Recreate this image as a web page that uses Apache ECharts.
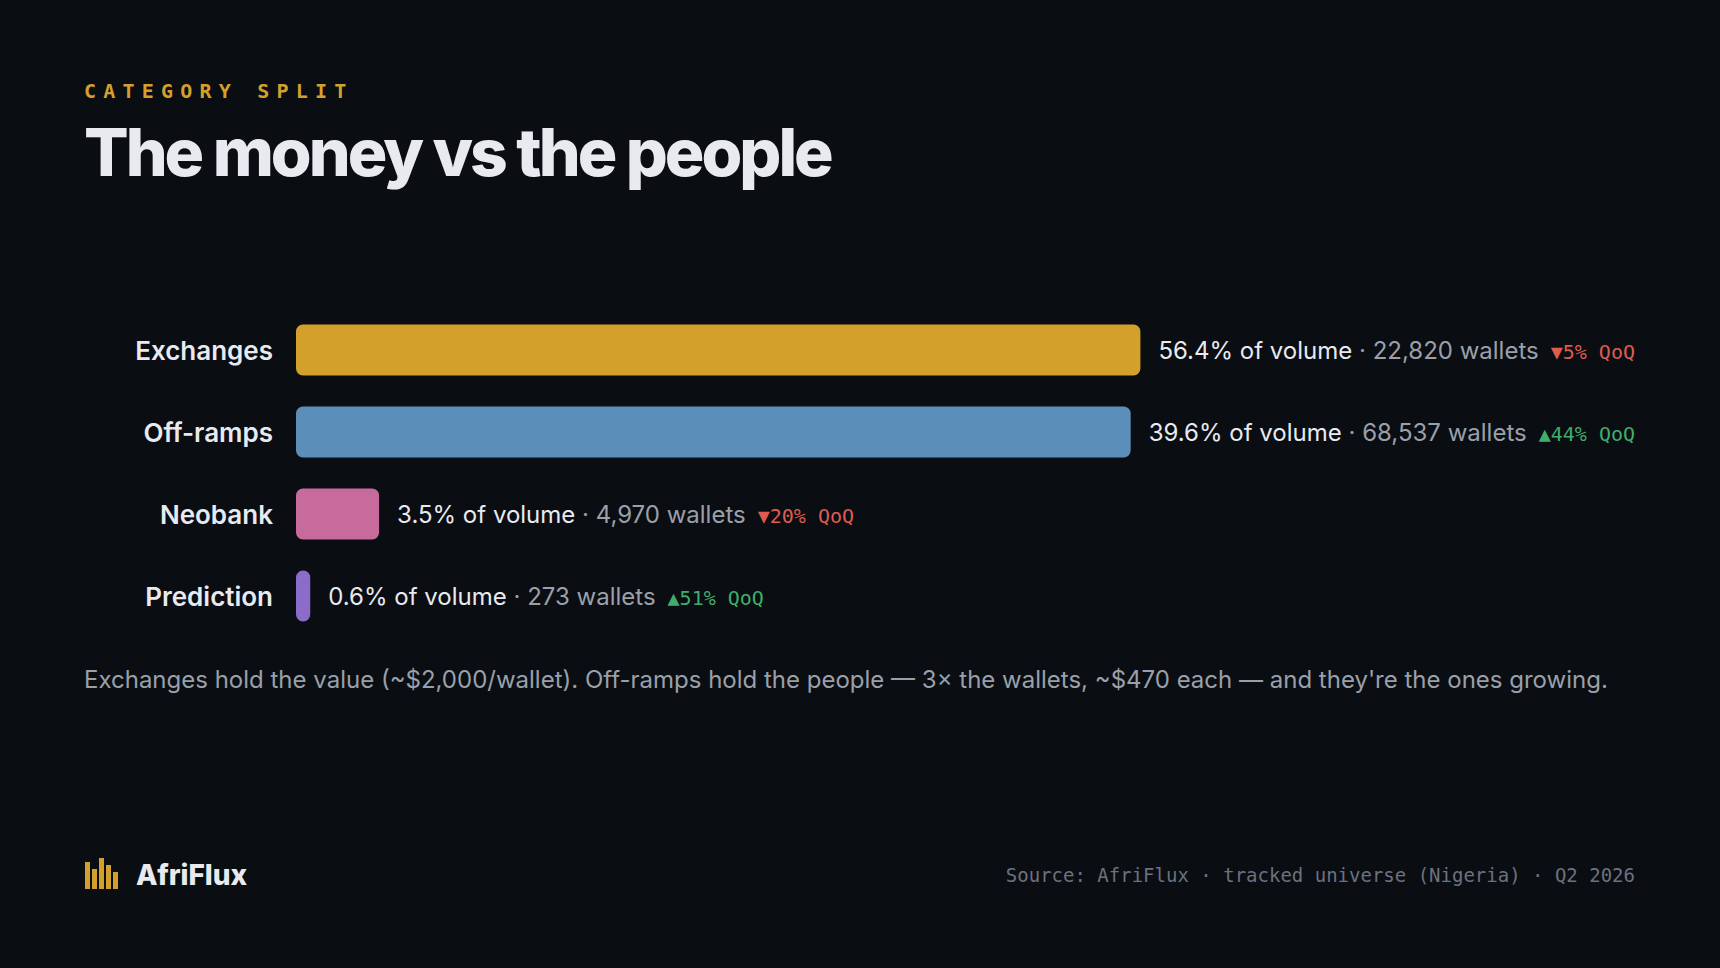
<!DOCTYPE html>
<html>
<head>
<meta charset="utf-8">
<script src="https://cdn.jsdelivr.net/npm/echarts@6/dist/echarts.min.js"></script>
<style>
html, body { margin: 0; padding: 0; background: #0a0d12; }
#chart { width: 1720px; height: 968px; }
/* tracking for the headline texts (svg renderer) */
#chart text[style*="bold 20px"] { letter-spacing: 7.2px; }
#chart text[style*="800 66px"] { letter-spacing: -3px; }
</style>
</head>
<body>
<div id="chart"></div>
<script>
// category split data
var categories = ['Exchanges', 'Off-ramps', 'Neobank', 'Prediction'];
var volumeShare = [56.4, 39.6, 3.5, 0.6];
var walletCount = [22820, 68537, 4970, 273];
var qoqChange = [-5, 44, -20, 51];
var barColors = ['#d4a02c', '#5b8fba', '#c76b9c', '#8b6cc9'];

var WHITE = '#e8eaf0';
var GREY = '#9aa0a9';
var RED = '#df5b4f';
var GREEN = '#3fae6b';
var SANS = 'Inter';
var MONO = '"DejaVu Sans Mono"';

var trackLeft = 296, trackWidth = 1339, labelGap = 18;

var ctx = document.createElement('canvas').getContext('2d');
function textWidth(str, font) {
  ctx.font = font;
  return ctx.measureText(str).width;
}

function labelParts(i) {
  var up = qoqChange[i] >= 0;
  return {
    pct: volumeShare[i] + '% of volume',
    wal: ' \u00b7 ' + walletCount[i].toLocaleString('en-US') + ' wallets',
    qoq: (up ? '\u25b2' : '\u25bc') + Math.abs(qoqChange[i]) + '% QoQ',
    up: up
  };
}

var maxShare = Math.max.apply(null, volumeShare);
var barData = [];
for (var i = 0; i < categories.length; i++) {
  var p = labelParts(i);
  var lw = textWidth(p.pct, '400 24px Inter') + textWidth(p.wal, '400 24px Inter') + 12 +
    textWidth(p.qoq, '400 20px "DejaVu Sans Mono"');
  // bar shrinks so that its label still fits inside the track
  var room = maxShare * (trackWidth - labelGap - lw) / trackWidth;
  barData.push({
    value: Math.min(volumeShare[i], room),
    itemStyle: { color: barColors[i] }
  });
}

var chart = echarts.init(document.getElementById('chart'), null, { renderer: 'svg' });
var option = {
  backgroundColor: '#0a0d12',
  animation: false,
  grid: { left: trackLeft, width: trackWidth, top: 309, height: 328 },
  xAxis: { type: 'value', min: 0, max: maxShare, show: false },
  yAxis: {
    type: 'category',
    data: categories,
    inverse: true,
    axisLine: { show: false },
    axisTick: { show: false },
    axisLabel: { color: WHITE, fontFamily: SANS, fontSize: 26, fontWeight: 600, margin: 23 }
  },
  series: [{
    type: 'bar',
    data: barData,
    barWidth: 51,
    itemStyle: { borderRadius: 7 },
    label: {
      show: true,
      position: 'right',
      distance: labelGap,
      formatter: function (params) {
        var p = labelParts(params.dataIndex);
        return '{pct|' + p.pct + '}{wal|' + p.wal + '}{' + (p.up ? 'up' : 'dn') + '|' + p.qoq + '}';
      },
      rich: {
        pct: { color: WHITE, fontFamily: SANS, fontSize: 24 },
        wal: { color: GREY, fontFamily: SANS, fontSize: 24 },
        up: { color: GREEN, fontFamily: MONO, fontSize: 20, padding: [3, 0, 0, 12] },
        dn: { color: RED, fontFamily: MONO, fontSize: 20, padding: [3, 0, 0, 12] }
      }
    }
  }],
  graphic: [
    {
      type: 'text', left: 84, top: 81,
      style: { text: 'CATEGORY SPLIT', fill: '#d4a02c', font: 'bold 20px ' + MONO }
    },
    {
      type: 'text', left: 84, top: 119,
      style: { text: 'The money vs the people', fill: WHITE, font: '800 66px Inter' }
    },
    {
      type: 'text', left: 84, top: 667,
      style: {
        text: 'Exchanges hold the value (~$2,000/wallet). Off-ramps hold the people \u2014 3\u00d7 the wallets, ~$470 each \u2014 and they\'re the ones growing.',
        fill: GREY, font: '400 24px Inter'
      }
    },
    { type: 'rect', shape: { x: 85, y: 862, width: 5, height: 27 }, style: { fill: '#d4a02c' } },
    { type: 'rect', shape: { x: 92, y: 869, width: 5, height: 20 }, style: { fill: '#d4a02c' } },
    { type: 'rect', shape: { x: 99, y: 858, width: 5, height: 31 }, style: { fill: '#d4a02c' } },
    { type: 'rect', shape: { x: 106, y: 865, width: 5, height: 24 }, style: { fill: '#d4a02c' } },
    { type: 'rect', shape: { x: 113, y: 872, width: 5, height: 17 }, style: { fill: '#d4a02c' } },
    {
      type: 'text', left: 136, top: 861,
      style: { text: 'AfriFlux', fill: WHITE, font: '800 28px Inter' }
    },
    {
      type: 'text', right: 85, top: 865,
      style: { text: 'Source: AfriFlux \u00b7 tracked universe (Nigeria) \u00b7 Q2 2026', fill: '#6b7280', font: '400 19px ' + MONO }
    }
  ]
};
chart.setOption(option);
</script>
</body>
</html>
